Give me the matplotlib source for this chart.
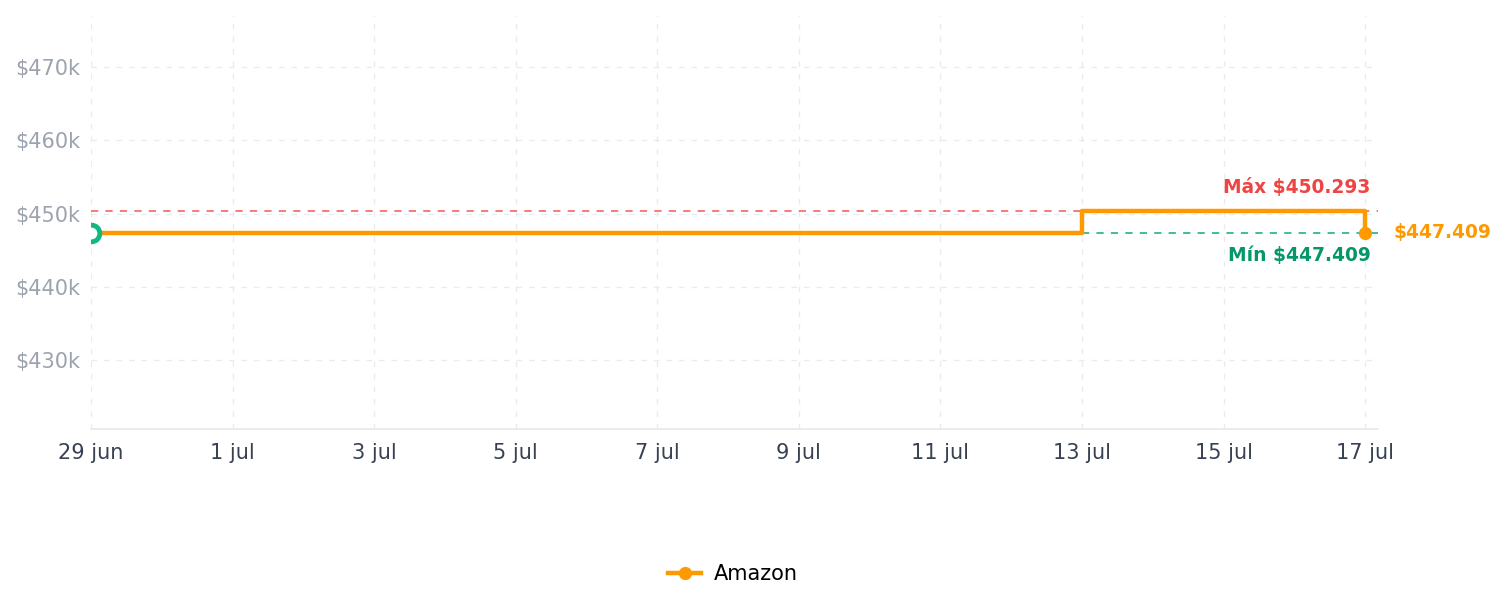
import datetime as dt

import matplotlib

matplotlib.use("Agg")
import matplotlib.dates as mdates
import matplotlib.pyplot as plt

# price history (step data)
dates = [dt.datetime(2024, 6, 29), dt.datetime(2024, 7, 13), dt.datetime(2024, 7, 17)]
prices = [447409, 450293, 447409]
series_name = "Amazon"
max_price = 450293
min_price = 447409
y_ticks = [430000, 440000, 450000, 460000, 470000]
x_ticks = [dt.datetime(2024, 6, 29) + dt.timedelta(days=2 * i) for i in range(10)]
month_names = {6: "jun", 7: "jul"}

ORANGE = "#ff9900"
RED = "#ef4444"
GREEN = "#059669"
GRID = "#e5e7eb"

fig = plt.figure(figsize=(15.05, 6.07), dpi=100)
ax = fig.add_axes([0.0605, 0.2932, 0.855, 0.682])

ax.step(dates, prices, where="post", color=ORANGE, linewidth=3.2, zorder=4, label=series_name,
        marker="o", markevery=[2], markersize=8.5)
ax.plot([dates[0]], [prices[0]], "o", markersize=12, markerfacecolor="white",
        markeredgecolor="#10b981", markeredgewidth=3.5, zorder=5)

ax.axhline(max_price, color="#f87171", linestyle=(0, (4, 4)), linewidth=1.3, zorder=2)
ax.plot([dates[1], dates[-1] + dt.timedelta(days=0.18)], [min_price, min_price],
        color="#34b98a", linestyle=(0, (4, 4)), linewidth=1.3, zorder=2)

ax.set_xlim(dates[0], dates[-1] + dt.timedelta(days=0.18))
ax.set_ylim(420580, 477100)

ax.set_yticks(y_ticks)
ax.set_yticklabels([f"${v // 1000}k" for v in y_ticks])
ax.set_xticks(x_ticks)
ax.set_xticklabels([f"{d.day} {month_names[d.month]}" for d in x_ticks])
ax.tick_params(axis="y", length=0, pad=7.5, labelsize=15, labelcolor="#9ca3af")
ax.tick_params(axis="x", length=0, pad=10, labelsize=15, labelcolor="#374151")

ax.grid(True, color=GRID, linestyle=(0, (4, 5)), linewidth=1, alpha=0.8)
ax.set_axisbelow(True)
for side in ["top", "right", "left"]:
    ax.spines[side].set_visible(False)
ax.spines["bottom"].set_color(GRID)
ax.spines["bottom"].set_linewidth(1.2)

x_lab = mdates.date2num(dates[-1]) + 0.08
ax.text(x_lab, max_price + 3300, f"Máx ${max_price / 1000:.3f}", color=RED, fontsize=13.4,
        fontweight="bold", ha="right", va="center")
ax.text(x_lab, min_price - 3150, f"Mín ${min_price / 1000:.3f}", color=GREEN, fontsize=13.4,
        fontweight="bold", ha="right", va="center")
ax.text(mdates.date2num(dates[-1]) + 0.4, prices[-1], f"${prices[-1] / 1000:.3f}", color=ORANGE,
        fontsize=13.4, fontweight="bold", ha="left", va="center", clip_on=False)

fig.legend(loc="center", bbox_to_anchor=(0.487, 0.054), frameon=False, fontsize=15,
           handlelength=1.6, handletextpad=0.6)

fig.savefig("out.png", dpi=100)
